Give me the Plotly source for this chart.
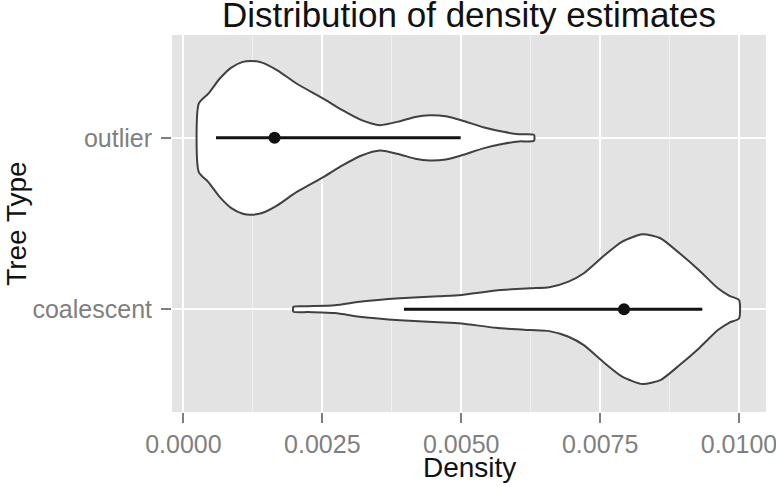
import plotly.graph_objects as go

# Categories (bottom to top) and their axis positions
categories = ["coalescent", "outlier"]
cat_pos = [1, 2]

# Violin outlines: density value vs half-width (category units)
outlier_x = [0.000276, 0.000448, 0.000655, 0.000862, 0.001069, 0.001207, 0.001414,
             0.00169, 0.002034, 0.002517, 0.002862, 0.003207, 0.003538, 0.003897,
             0.004172, 0.004434, 0.004724, 0.005, 0.005414, 0.005759, 0.006034, 0.00631]
outlier_hw = [0.200, 0.258, 0.346, 0.410, 0.443, 0.449, 0.439, 0.394, 0.317, 0.229,
              0.161, 0.103, 0.074, 0.097, 0.122, 0.132, 0.126, 0.103, 0.060, 0.035,
              0.021, 0.017]

coal_x = [0.001979, 0.002241, 0.002724, 0.003207, 0.003897, 0.004586, 0.005, 0.005621,
          0.006241, 0.006586, 0.006931, 0.007207, 0.007552, 0.007897, 0.008262,
          0.008586, 0.008931, 0.009276, 0.009621, 0.009828, 0.01]
coal_hw = [0.014, 0.017, 0.023, 0.045, 0.064, 0.076, 0.083, 0.109, 0.122, 0.128,
           0.161, 0.210, 0.307, 0.394, 0.437, 0.414, 0.326, 0.229, 0.122, 0.078, 0.054]

# Summary: median point and interval line
medians = [0.00793, 0.00164]
lows = [0.00397, 0.000586]
highs = [0.00934, 0.00499]

# Axis ticks
x_ticks = [0.0, 0.0025, 0.005, 0.0075, 0.01]
x_ticklabels = ["0.0000", "0.0025", "0.0050", "0.0075", "0.0100"]

fig = go.Figure()

def outline(xs, hws, pos):
    top_x = list(xs)
    top_y = [pos + h for h in hws]
    bot_x = list(reversed(xs))
    bot_y = [pos - h for h in reversed(hws)]
    return top_x + bot_x + [xs[0]], top_y + bot_y + [pos + hws[0]]

for xs, hws, pos in [(coal_x, coal_hw, cat_pos[0]), (outlier_x, outlier_hw, cat_pos[1])]:
    ox, oy = outline(xs, hws, pos)
    fig.add_trace(go.Scatter(
        x=ox, y=oy, mode="lines", fill="toself", fillcolor="white",
        line=dict(color="#404040", width=2, shape="spline", smoothing=0.6),
        hoverinfo="skip", showlegend=False))

for lo, hi, pos in zip(lows, highs, cat_pos):
    fig.add_trace(go.Scatter(x=[lo, hi], y=[pos, pos], mode="lines",
                             line=dict(color="#111111", width=3),
                             showlegend=False, hoverinfo="skip"))

fig.add_trace(go.Scatter(x=medians, y=cat_pos, mode="markers",
                         marker=dict(color="#111111", size=12),
                         showlegend=False))

font_family = "Liberation Sans, Arial, sans-serif"

fig.update_layout(
    width=776, height=487,
    margin=dict(l=172, r=10, t=35, b=75),
    paper_bgcolor="white",
    plot_bgcolor="#E3E3E3",
    font=dict(family=font_family),
    title=dict(text="Distribution of density estimates",
               font=dict(size=35, color="#111111", family=font_family),
               x=0.5, xref="paper", xanchor="center",
               y=(487 - 15) / 487, yref="container", yanchor="middle"),
    xaxis=dict(
        range=[-0.000206, 0.010486],
        tickvals=x_ticks, ticktext=x_ticklabels,
        showgrid=True, gridcolor="white", gridwidth=2,
        zeroline=False, showline=False, automargin=False,
        ticklabeloverflow="allow",
        ticks="outside", ticklen=10, tickwidth=1.5, tickcolor="#7f7f7f",
        tickfont=dict(size=25, color="#7f7f7f"),
        minor=dict(tickvals=[0.00125, 0.00375, 0.00625, 0.00875], showgrid=True,
                   gridcolor="#F0F0F0", gridwidth=1, ticks=""),
    ),
    yaxis=dict(
        range=[0.4, 2.6],
        tickvals=cat_pos, ticktext=categories,
        showgrid=True, gridcolor="white", gridwidth=2,
        zeroline=False, showline=False, automargin=False,
        ticklabeloverflow="allow",
        ticks="outside", ticklen=10, tickwidth=1.5, tickcolor="#7f7f7f",
        tickfont=dict(size=25, color="#7f7f7f"),
        ticklabelstandoff=4,
    ),
    annotations=[
        dict(text="Density", xref="paper", yref="paper", x=0.5, y=-0.147,
             xanchor="center", yanchor="middle", showarrow=False,
             font=dict(size=28, color="#111111", family=font_family)),
        dict(text="Tree Type", xref="paper", yref="paper", x=-0.262, y=0.5,
             xanchor="center", yanchor="middle", textangle=-90, showarrow=False,
             font=dict(size=28, color="#111111", family=font_family)),
    ],
)

# Hide the toolbar and remove the default page margin so the figure sits at the window's corner
fig.write_html("out.html", config={"displayModeBar": False},
               post_script="document.body.style.margin='0px';")
